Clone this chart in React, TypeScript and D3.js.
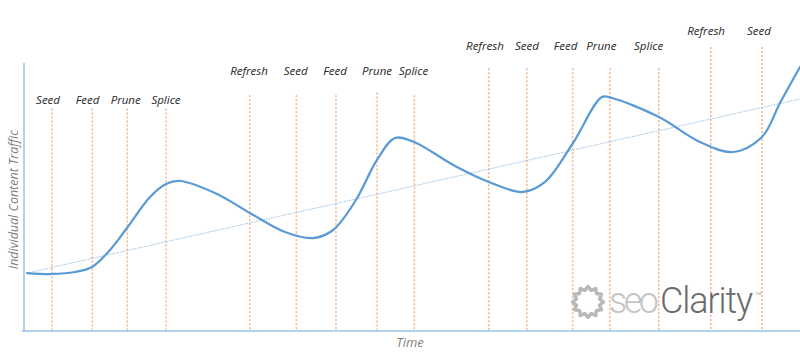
import React, { useEffect, useRef } from "react";
import * as d3 from "d3";

// traffic curve, time 0..100, traffic 0..100
const curveTime = [0.39, 3.61, 6.57, 8.76, 11.08, 13.27, 16.24, 18.3, 20.1, 24.61, 29.12, 33.63, 37.24, 39.8, 42.78, 45.49, 47.81, 50.26, 55.54, 59.92, 64.3, 67.14, 70.75, 74.48, 75.77, 81.83, 87.11, 91.37, 95.1, 97.42, 100];
const curveTraffic = [21.64, 21.27, 22.01, 23.88, 30.22, 38.43, 50.0, 54.85, 55.97, 51.49, 44.03, 36.94, 34.7, 37.6, 48.88, 63.81, 72.01, 70.52, 61.57, 55.6, 51.87, 55.6, 70.15, 87.31, 86.94, 79.85, 70.52, 66.79, 72.39, 85.07, 98.51];

// linear trend
const trendTime = [0.4, 100];
const trendTraffic = [21.6, 86.6];

// activity markers
const stepNames = ["Seed", "Feed", "Prune", "Splice", "Refresh", "Seed", "Feed", "Prune", "Splice", "Refresh", "Seed", "Feed", "Prune", "Splice", "Refresh", "Seed"];
const stepTime = [3.6, 8.8, 13.3, 18.3, 29.1, 35.1, 40.2, 45.5, 50.3, 59.9, 64.8, 70.7, 75.5, 81.8, 88.5, 95.1];
const stepTop = [83, 83, 83, 83, 88, 88, 88, 89, 88, 98, 98, 98, 98, 98, 106, 106];
const labelTraffic = [85.8, 85.8, 85.8, 85.8, 96.5, 96.5, 96.5, 96.5, 96.5, 106, 106, 106, 106, 106, 111.5, 111.5];
const labelShift = [-0.5, -0.6, -0.2, 0, -0.1, -0.1, -0.1, 0, -0.1, -0.5, 0, -0.9, -1.1, -1.3, -0.6, -0.4];

const W = 800;
const H = 359;

export default function App() {
  const svgRef = useRef<SVGSVGElement>(null);

  useEffect(() => {
    const svg = d3.select(svgRef.current);
    svg.selectAll("*").remove();

    const x = d3.scaleLinear().domain([0, 100]).range([24, 800]);
    const y = d3.scaleLinear().domain([0, 100]).range([331, 63]);

    svg.append("rect").attr("width", W).attr("height", H).attr("fill", "#fff");

    // orange dashed markers
    svg
      .selectAll("line.step")
      .data(stepTime)
      .join("line")
      .attr("class", "step")
      .attr("x1", (d) => x(d))
      .attr("x2", (d) => x(d))
      .attr("y1", (d, i) => y(stepTop[i]))
      .attr("y2", y(0))
      .attr("stroke", "#f4b183")
      .attr("stroke-width", 1.5)
      .attr("stroke-dasharray", "2,2");

    svg
      .selectAll("text.step")
      .data(stepNames)
      .join("text")
      .attr("class", "step")
      .attr("x", (d, i) => x(stepTime[i] + labelShift[i]))
      .attr("y", (d, i) => y(labelTraffic[i]))
      .attr("text-anchor", "middle")
      .attr("dominant-baseline", "middle")
      .attr("font-family", "Open Sans, sans-serif")
      .attr("font-style", "italic")
      .attr("font-size", 11.5)
      .attr("fill", "#262626")
      .text((d) => d);

    // axes
    svg
      .append("line")
      .attr("x1", x(0))
      .attr("x2", x(0))
      .attr("y1", y(100))
      .attr("y2", y(0))
      .attr("stroke", "#9dc3e6")
      .attr("stroke-width", 1.5);
    svg
      .append("line")
      .attr("x1", x(0) - 2)
      .attr("x2", x(100))
      .attr("y1", y(0))
      .attr("y2", y(0))
      .attr("stroke", "#9dc3e6")
      .attr("stroke-width", 1.5);

    // trend line
    const pts = (t: number[], v: number[]) => t.map((d, i) => [d, v[i]] as [number, number]);
    const line = d3
      .line<[number, number]>()
      .x((d) => x(d[0]))
      .y((d) => y(d[1]));

    svg
      .append("path")
      .attr("d", line(pts(trendTime, trendTraffic)))
      .attr("fill", "none")
      .attr("stroke", "#9dc3e6")
      .attr("stroke-width", 1)
      .attr("stroke-dasharray", "1.5,1");

    svg
      .append("path")
      .attr("d", line.curve(d3.curveCatmullRom.alpha(0.5))(pts(curveTime, curveTraffic)))
      .attr("fill", "none")
      .attr("stroke", "#5b9bd5")
      .attr("stroke-width", 2.25)
      .attr("stroke-linecap", "round");

    // axis titles
    svg
      .append("text")
      .attr("transform", `translate(15,${y(49)}) rotate(-90)`)
      .attr("text-anchor", "middle")
      .attr("dominant-baseline", "middle")
      .attr("font-family", "Open Sans, sans-serif")
      .attr("font-style", "italic")
      .attr("font-size", 12.5)
      .attr("fill", "#7f7f7f")
      .text("Individual Content Traffic");

    svg
      .append("text")
      .attr("x", 410)
      .attr("y", 344)
      .attr("text-anchor", "middle")
      .attr("dominant-baseline", "middle")
      .attr("font-family", "Open Sans, sans-serif")
      .attr("font-style", "italic")
      .attr("font-size", 13)
      .attr("fill", "#7f7f7f")
      .text("Time");

    // logo
    const logo = svg.append("g");
    const teeth = 12;
    const gear = d3.range(0, teeth * 2).map((i) => {
      const a = (i / (teeth * 2)) * Math.PI * 2;
      return [a, i % 2 === 0 ? 15.5 : 12] as [number, number];
    });
    logo
      .append("path")
      .attr("transform", "translate(588,302)")
      .attr("d", d3.lineRadial().curve(d3.curveLinearClosed)(gear))
      .attr("fill", "none")
      .attr("stroke", "#b8b8b8")
      .attr("stroke-width", 3.5)
      .attr("stroke-linejoin", "round");
    logo
      .append("text")
      .attr("x", 609)
      .attr("y", 313)
      .attr("font-family", "Roboto, Liberation Sans, sans-serif")
      .attr("font-weight", 300)
      .attr("font-size", 36)
      .attr("fill", "#c4c4c4")
      .attr("textLength", 50)
      .text("seo");
    logo
      .append("text")
      .attr("x", 660)
      .attr("y", 313)
      .attr("font-family", "Roboto, Liberation Sans, sans-serif")
      .attr("font-weight", 300)
      .attr("font-size", 36)
      .attr("fill", "#6b6b6b")
      .attr("textLength", 93)
      .text("Clarity");
    logo
      .append("text")
      .attr("x", 755)
      .attr("y", 295)
      .attr("font-family", "Roboto, sans-serif")
      .attr("font-size", 4)
      .attr("fill", "#999")
      .text("TM");
  }, []);

  return (
    <svg
      ref={svgRef}
      width={W}
      height={H}
      style={{ position: "absolute", left: 0, top: 0, display: "block" }}
    />
  );
}
